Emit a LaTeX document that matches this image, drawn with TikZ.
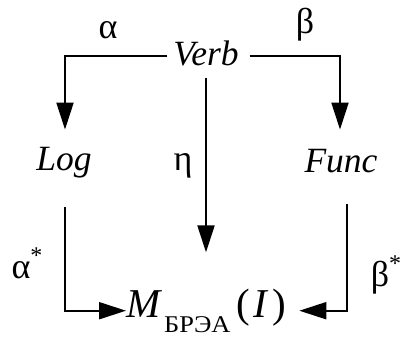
\documentclass[tikz,border=0pt]{standalone}
\usepackage{fontspec}
\setmainfont{Liberation Serif}
\usetikzlibrary{arrows.meta}

\begin{document}
\begin{tikzpicture}[
    x=1pt, y=-1pt,
    term/.style={inner sep=0pt, anchor=base, font=\fontsize{35.5}{40}\selectfont\itshape},
    glbl/.style={inner sep=0pt, font=\fontsize{36}{40}\selectfont},
    arr/.style={-{Triangle[length=27pt, width=17pt]}, line width=2pt}
  ]
    \useasboundingbox (0,0) rectangle (401,337);

    \node[term] (verb) at (206,65) {Verb};
    \node[term] (log) at (64,170) {Log};
    \node[term] (func) at (341,172) {Func};
    \node[anchor=base west, inner sep=0pt, font=\fontsize{41}{44}\selectfont] (mres) at (126,317)
        {\textit{M}\kern2pt\raisebox{-15pt}{\scalebox{1.1}[1]{\fontsize{24}{24}\selectfont БРЭА}}\kern6pt(\kern3pt\textit{I}\kern4pt)};

    \node[glbl] (alpha) at (108,30) {α};
    \node[glbl] (beta) at (305,25) {β};
    \node[glbl, anchor=base] (eta) at (183,170) {η};
    \node[glbl, anchor=base] (astar) at (27,278) {α\raisebox{15pt}{\fontsize{24}{24}\selectfont *}};
    \node[glbl, anchor=base] (bstar) at (386,286) {β\raisebox{15pt}{\fontsize{24}{24}\selectfont *}};

    \draw[arr, shorten <=6pt, shorten >=17pt] ([yshift=-3pt]verb.west) -| ([xshift=1pt]log.north);
    \draw[arr, shorten <=11pt, shorten >=19pt] ([yshift=-3pt]verb.east) -| ([xshift=-1pt]func.north);
    \draw[arr, shorten <=12pt, shorten >=36pt] (verb.south) -- (verb.south |- mres.north);
    \draw[arr, shorten <=29pt] ([xshift=1pt]log.south) |- ([yshift=4pt]mres.mid west);
    \draw[arr, shorten <=31pt, shorten >=13pt] ([xshift=6pt]func.south) |- ([yshift=4pt]mres.mid east);
\end{tikzpicture}
\end{document}
